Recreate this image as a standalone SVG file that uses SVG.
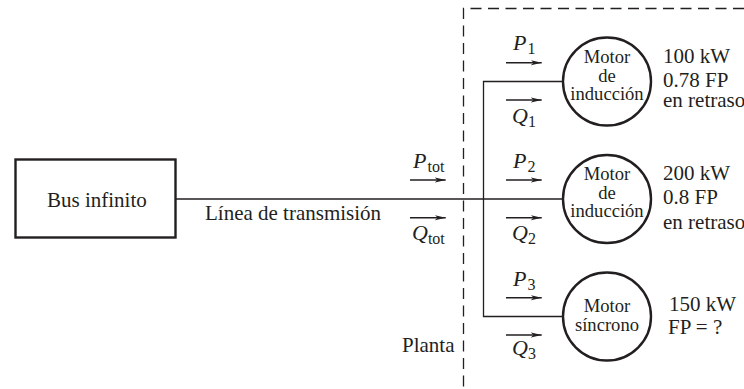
<svg xmlns="http://www.w3.org/2000/svg" width="744" height="389" viewBox="0 0 744 389">
<defs>
<marker id="ah" markerUnits="userSpaceOnUse" markerWidth="12" markerHeight="6" refX="11" refY="3" orient="auto"><path d="M0 0.4L11 3L0 5.6L3 3Z" fill="#231f20"/></marker>
</defs>
<style>
text{font-family:"Liberation Serif","Times New Roman",serif;fill:#231f20;font-size:21px}
.m{font-size:18.6px;text-anchor:middle}
.v{font-style:italic;font-size:22px}
.s{font-size:16px;font-style:normal}
.n{stroke:#231f20;stroke-width:2.4;fill:#fff}
.w{stroke:#231f20;stroke-width:1.3;fill:none}
.a{stroke:#231f20;stroke-width:1.6;fill:none;marker-end:url(#ah)}
.d{stroke:#231f20;stroke-width:1.3;fill:none;stroke-dasharray:11 6.5}
</style>
<rect width="744" height="389" fill="#fff"/>
<g id="connectors">
<path class="d" d="M744 8.5H463.5V389"/>
<path class="w" d="M176 199H563"/>
<path class="w" d="M563 81.5H483.5V316.5H563"/>
<path class="a" d="M410 180H445.7"/>
<path class="a" d="M410 217.7H445.7"/>
<path class="a" d="M506 62.7H541.7"/>
<path class="a" d="M506 100H541.7"/>
<path class="a" d="M506 180H541.7"/>
<path class="a" d="M506 217.7H541.7"/>
<path class="a" d="M506 297.7H541.7"/>
<path class="a" d="M506 335H541.7"/>
</g>
<g id="bus"><rect class="n" x="15.5" y="159.5" width="160" height="78"/><text x="47" y="206.5">Bus infinito</text></g>
<g id="motor1"><circle class="n" cx="607" cy="81.5" r="44"/><text class="m" x="607" y="63">Motor</text><text class="m" x="607" y="82">de</text><text class="m" x="607" y="100">inducción</text></g>
<g id="motor2"><circle class="n" cx="607" cy="199" r="44"/><text class="m" x="607" y="180">Motor</text><text class="m" x="607" y="199">de</text><text class="m" x="607" y="217">inducción</text></g>
<g id="motor3"><circle class="n" cx="607" cy="316.5" r="44"/><text class="m" x="607" y="312">Motor</text><text class="m" x="607" y="331">síncrono</text></g>
<g id="labels">
<text x="205" y="220">Línea de transmisión</text>
<text x="402" y="352">Planta</text>
<text x="663" y="63">100 kW</text><text x="663" y="87">0.78 FP</text><text x="663" y="107">en retraso</text>
<text x="663" y="180">200 kW</text><text x="663" y="203.5">0.8 FP</text><text x="663" y="229">en retraso</text>
<text x="669" y="311">150 kW</text><text x="668" y="334">FP = ?</text>
<text class="v" x="413" y="168">P<tspan class="s" dx="1" dy="4">tot</tspan></text>
<text class="v" x="412" y="240">Q<tspan class="s" dx="0" dy="4">tot</tspan></text>
<text class="v" x="513" y="50">P<tspan class="s" dx="1" dy="4">1</tspan></text>
<text class="v" x="512" y="123">Q<tspan class="s" dx="0" dy="4">1</tspan></text>
<text class="v" x="513" y="168">P<tspan class="s" dx="1" dy="4">2</tspan></text>
<text class="v" x="512" y="240">Q<tspan class="s" dx="0" dy="4">2</tspan></text>
<text class="v" x="513" y="286">P<tspan class="s" dx="1" dy="4">3</tspan></text>
<text class="v" x="512" y="355">Q<tspan class="s" dx="0" dy="4">3</tspan></text>
</g>
</svg>
